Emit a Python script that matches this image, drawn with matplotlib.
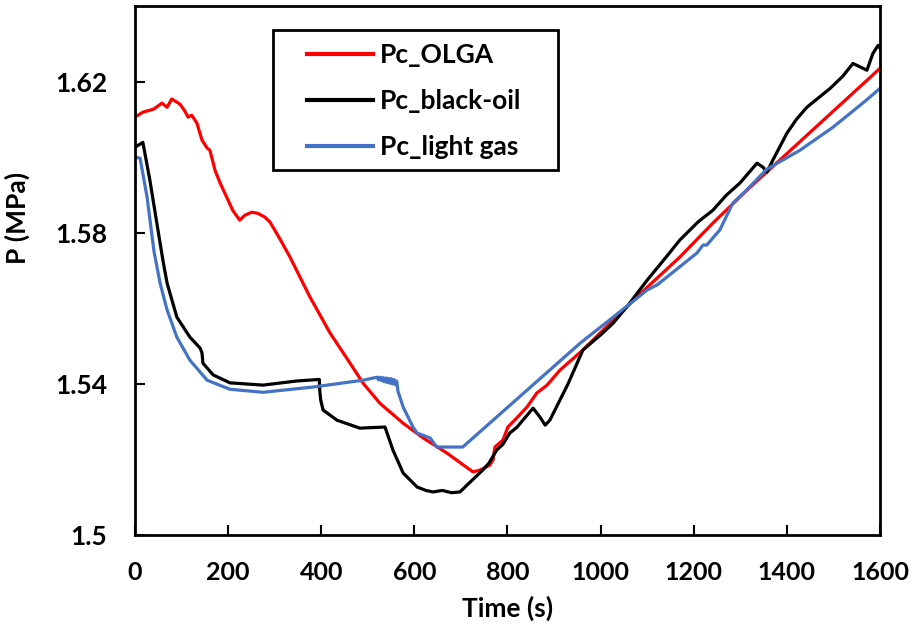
import matplotlib
matplotlib.use("Agg")
import matplotlib.pyplot as plt
from matplotlib.patches import Rectangle

plt.rcParams['font.family'] = ['Lato', 'DejaVu Sans']
plt.rcParams['font.weight'] = 'bold'

# Pc_OLGA
t_olga = [0, 17, 40, 58, 69, 79, 97, 107, 114, 122, 133, 144, 155, 161, 172, 183,
          197, 210, 225, 236, 251, 264, 279, 290, 311, 333, 376, 419, 462, 490, 526,
          576, 619, 670, 726, 741, 762, 769, 773, 790, 801, 820, 842,
          863, 885, 913, 962, 1027, 1100, 1170, 1241, 1314, 1600]
p_olga = [1.6107, 1.6120, 1.6128, 1.6144, 1.6133, 1.6155, 1.6141, 1.6123, 1.6107,
          1.6112, 1.6091, 1.6046, 1.6025, 1.6019, 1.5966, 1.5932, 1.5895, 1.5860,
          1.5834, 1.5847, 1.5855, 1.5852, 1.5842, 1.5829, 1.5785, 1.5736, 1.5630,
          1.5535, 1.5455, 1.5402, 1.5349, 1.5296, 1.5257, 1.5217, 1.5167,
          1.5172, 1.5185, 1.5199, 1.5233, 1.5251, 1.5286, 1.5310,
          1.5339, 1.5376, 1.5397, 1.5437, 1.5490, 1.5569, 1.5656, 1.5736, 1.5826,
          1.5913, 1.6236]

# Pc_black-oil
t_black = [0, 17, 32, 47, 60, 69, 90, 118, 140, 144, 146, 168, 204, 275, 348, 396,
           397, 399, 404, 434, 483, 537, 554, 576, 606, 625, 640, 660, 680, 698, 713,
           747, 760, 777, 790, 805, 820, 833, 855, 870, 881, 891, 930, 962, 1000, 1027,
           1060, 1100, 1140, 1170, 1210, 1241, 1270, 1299, 1336, 1349, 1357, 1370,
           1400, 1420, 1443, 1470, 1493, 1520, 1542, 1564, 1572, 1585, 1596, 1600]
p_black = [1.6027, 1.6040, 1.5940, 1.5826, 1.5728, 1.5667, 1.5577, 1.5524, 1.5495,
           1.5482, 1.5455, 1.5424, 1.5403, 1.5397, 1.5408, 1.5412, 1.5380, 1.5357,
           1.5331, 1.5304, 1.5283, 1.5286, 1.5225, 1.5164, 1.5127, 1.5118, 1.5114,
           1.5118, 1.5112, 1.5114, 1.5132, 1.5172, 1.5190, 1.5225, 1.5240, 1.5270,
           1.5285, 1.5304, 1.5336, 1.5312, 1.5291, 1.5304, 1.5400, 1.5490, 1.5530,
           1.5561, 1.5610, 1.5675, 1.5735, 1.5781, 1.5830, 1.5860, 1.5900, 1.5932,
           1.5985, 1.5974, 1.5961, 1.5993, 1.6064, 1.6100, 1.6133, 1.6160, 1.6183,
           1.6215, 1.6249, 1.6236, 1.6231, 1.6276, 1.6297, 1.6290]

# Pc_light gas
t_gas = [0, 11, 26, 41, 54, 69, 90, 118, 155, 204, 275, 383, 490, 520, 523, 526,
         529, 532, 535, 538, 541, 544, 547, 550, 553, 556, 559, 562, 565, 576, 597,
         606, 634, 648, 704, 956, 1027, 1100, 1121, 1207, 1220, 1228, 1256, 1284,
         1313, 1357, 1428, 1499, 1570, 1600]
p_gas = [1.6001, 1.5998, 1.5895, 1.5750, 1.5667, 1.5596, 1.5524, 1.5463, 1.5410,
         1.5386, 1.5378, 1.5392, 1.5410, 1.5418, 1.5411, 1.5418, 1.5409, 1.5417,
         1.5406, 1.5416, 1.5404, 1.5415, 1.5402, 1.5414, 1.5400, 1.5412, 1.5398,
         1.5408, 1.5380, 1.5339, 1.5286, 1.5270, 1.5257, 1.5233, 1.5233, 1.5508,
         1.5577, 1.5649, 1.5662, 1.5747, 1.5768, 1.5768, 1.5808, 1.5879, 1.5913,
         1.5969, 1.6019, 1.6080, 1.6151, 1.6183]

x_ticks = [0, 200, 400, 600, 800, 1000, 1200, 1400, 1600]
y_ticks = [1.5, 1.54, 1.58, 1.62]
y_tick_labels = ['1.5', '1.54', '1.58', '1.62']

fig = plt.figure(figsize=(9.15, 6.35), dpi=100)
ax = fig.add_axes([0.1475, 0.1575, 0.8142, 0.8323])

l1, = ax.plot(t_olga, p_olga, color='#FF0000', lw=2.3, label='Pc_OLGA')
l2, = ax.plot(t_black, p_black, color='black', lw=2.3, label='Pc_black-oil')
l3, = ax.plot(t_gas, p_gas, color='#4472C4', lw=2.3, label='Pc_light gas')

ax.set_xlim(0, 1600)
ax.set_ylim(1.5, 1.64)
ax.set_xticks(x_ticks)
ax.set_yticks(y_ticks)
ax.set_yticklabels(y_tick_labels)
ax.tick_params(direction='in', length=7, width=1.5)
ax.tick_params(axis='x', pad=19, labelsize=18)
ax.tick_params(axis='y', pad=20, labelsize=19)
for s in ax.spines.values():
    s.set_linewidth(2)

ax.set_xlabel('Time (s)', fontsize=19, fontweight='bold', labelpad=8)
ax.set_ylabel('P (MPa)', fontsize=19, fontweight='bold')
ax.yaxis.set_label_coords(-0.141, 0.60)

# legend frame drawn as a box, legend itself without frame
ax.add_patch(Rectangle((0.185, 0.69), 0.383, 0.265, transform=ax.transAxes,
                       facecolor='white', edgecolor='black', lw=2, zorder=3))
leg = ax.legend(handles=[l1, l2, l3], loc='upper left', bbox_to_anchor=(0.231, 0.93),
                frameon=False, borderpad=0, fontsize=19, handlelength=2.5,
                handletextpad=0.25, labelspacing=0.83, borderaxespad=0)
leg.set_zorder(4)
for h in leg.get_lines():
    h.set_linewidth(3)

fig.savefig('out.png', dpi=100)
